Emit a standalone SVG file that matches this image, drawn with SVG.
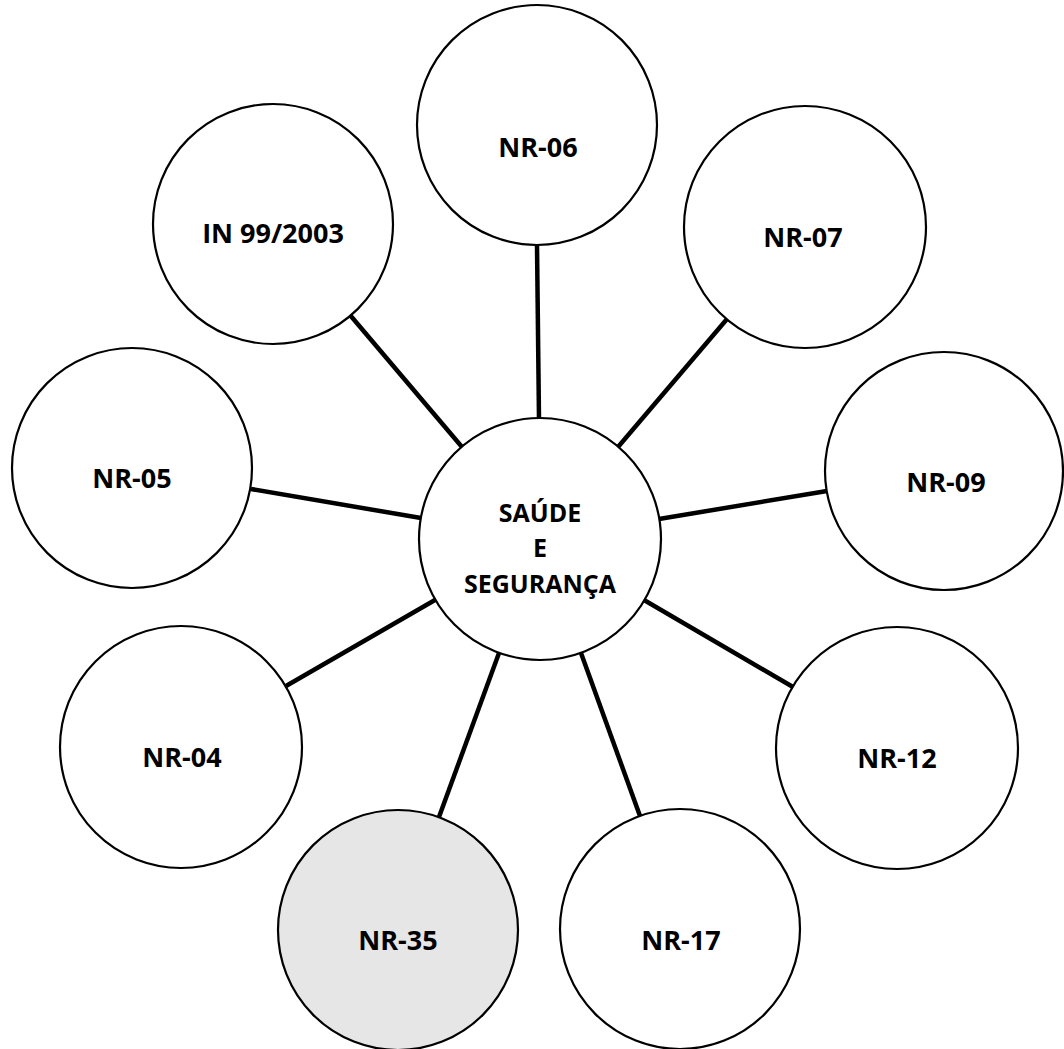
<svg xmlns="http://www.w3.org/2000/svg" width="1064" height="1049" viewBox="0 0 1064 1049">
<style>
.node{fill:#ffffff;stroke:#000000;stroke-width:2.2}
.hl{fill:#e6e6e6}
.lbl{font-family:"Open Sans","Liberation Sans",sans-serif;font-weight:700;font-size:27px;fill:#000000;text-anchor:middle}
.ctr{font-size:25px}
.edge{stroke:#000000;stroke-width:4.5;stroke-linecap:butt}
</style>
<rect width="1064" height="1049" fill="#ffffff"/>
<g id="connectors">
<line class="edge" x1="537" y1="245" x2="539" y2="419"/>
<line class="edge" x1="350" y1="315" x2="462" y2="447"/>
<line class="edge" x1="727" y1="319" x2="618" y2="447"/>
<line class="edge" x1="251" y1="489" x2="421" y2="518"/>
<line class="edge" x1="827" y1="491" x2="659" y2="519"/>
<line class="edge" x1="286" y1="686" x2="435" y2="600"/>
<line class="edge" x1="793" y1="687" x2="644" y2="600"/>
<line class="edge" x1="439" y1="817" x2="499" y2="653"/>
<line class="edge" x1="640" y1="816" x2="581" y2="653"/>
</g>
<g id="node-center">
<circle class="node" cx="540" cy="539" r="121"/>
<text class="lbl ctr" x="540" y="522">SAÚDE</text>
<text class="lbl ctr" x="540" y="557">E</text>
<text class="lbl ctr" x="540" y="593">SEGURANÇA</text>
</g>
<g id="node-nr06">
<circle class="node" cx="537" cy="125" r="120"/>
<text class="lbl" x="538" y="157">NR-06</text>
</g>
<g id="node-in99">
<circle class="node" cx="273" cy="224" r="120"/>
<text class="lbl" x="273" y="243">IN 99/2003</text>
</g>
<g id="node-nr07">
<circle class="node" cx="805" cy="227" r="121"/>
<text class="lbl" x="803" y="247">NR-07</text>
</g>
<g id="node-nr05">
<circle class="node" cx="132" cy="468" r="120"/>
<text class="lbl" x="132" y="488">NR-05</text>
</g>
<g id="node-nr09">
<circle class="node" cx="944" cy="471" r="119"/>
<text class="lbl" x="946" y="492">NR-09</text>
</g>
<g id="node-nr04">
<circle class="node" cx="181" cy="747" r="121"/>
<text class="lbl" x="182" y="767">NR-04</text>
</g>
<g id="node-nr12">
<circle class="node" cx="897" cy="748" r="121"/>
<text class="lbl" x="897" y="768">NR-12</text>
</g>
<g id="node-nr35">
<circle class="node hl" cx="398" cy="930" r="120"/>
<text class="lbl" x="398" y="950">NR-35</text>
</g>
<g id="node-nr17">
<circle class="node" cx="680" cy="929" r="120"/>
<text class="lbl" x="681" y="950">NR-17</text>
</g>
</svg>
